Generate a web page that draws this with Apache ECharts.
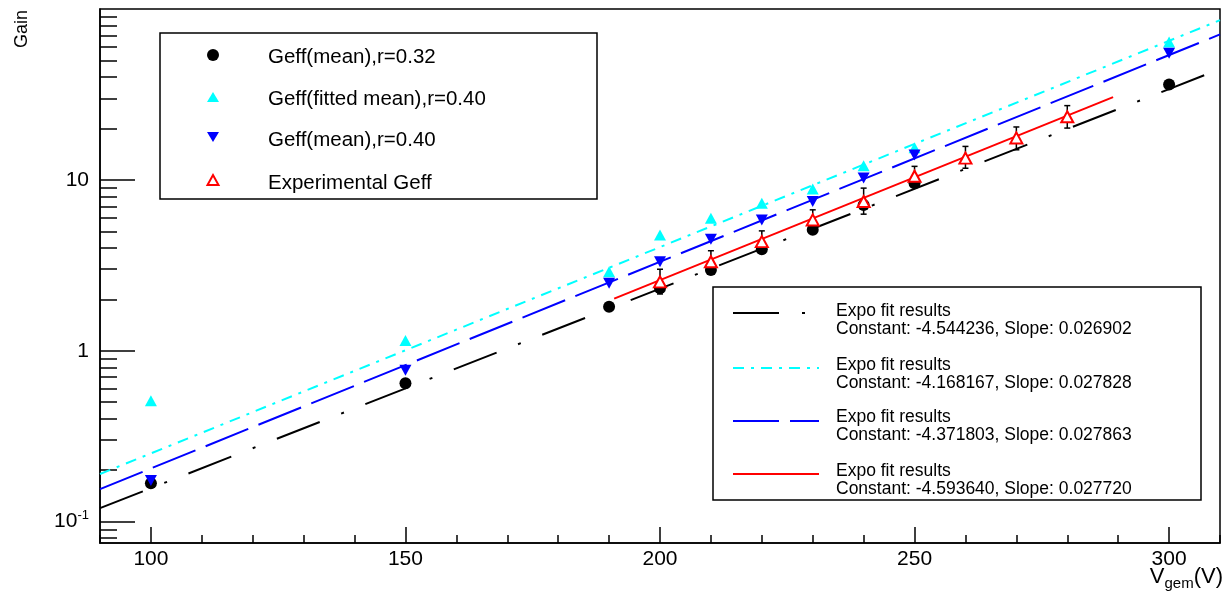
<!DOCTYPE html>
<html>
<head>
<meta charset="utf-8">
<script src="https://cdn.jsdelivr.net/npm/echarts@6/dist/echarts.min.js"></script>
<style>
  html, body { margin: 0; background: #fff; }
  #main { width: 1224px; height: 591px; }
</style>
</head>
<body>
<div id="main"></div>
<script>
// simulated points (V_gem)
var vSim = [100, 150, 190, 200, 210, 220, 230, 240, 250, 300];
var gainMean032 = [0.168, 0.645, 1.81, 2.32, 2.97, 3.93, 5.1, 7.14, 9.57, 36.1];
var gainFitted040 = [0.51, 1.15, 2.9, 4.76, 5.97, 7.31, 8.83, 12.1, 15.4, 64];
var gainMean040 = [0.174, 0.77, 2.48, 3.32, 4.5, 5.83, 7.47, 10.25, 14.0, 55];

// experimental points with error bars
var vExp = [200, 210, 220, 230, 240, 250, 260, 270, 280];
var gainExp = [2.53, 3.32, 4.35, 5.83, 7.47, 10.5, 13.4, 17.6, 23.4];
var gainExpLow = [2.15, 2.85, 3.75, 5.05, 6.3, 9.1, 11.7, 15.0, 20.1];
var gainExpHigh = [3.0, 3.85, 5.03, 6.68, 8.95, 12.0, 15.7, 20.4, 27.2];

// expo fit lines, end points
var fitX = [90, 310];
var fitBlack = [0.12, 44.5];
var fitCyan = [0.19, 86];
var fitBlue = [0.155, 71];
var fitRedX = [191, 289];
var fitRed = [2.02, 30.5];

// axis ticks
var xMajor = [100, 150, 200, 250, 300];
var xMinor = [90, 100, 110, 120, 130, 140, 150, 160, 170, 180, 190, 200, 210, 220, 230, 240, 250, 260, 270, 280, 290, 300, 310];
var yMajor = [0.1, 1, 10];
var yMinor = [0.08, 0.09, 0.2, 0.3, 0.4, 0.5, 0.6, 0.7, 0.8, 0.9, 2, 3, 4, 5, 6, 7, 8, 9, 20, 30, 40, 50, 60, 70, 80, 90];

var legendNames = ['Geff(mean),r=0.32', 'Geff(fitted mean),r=0.40', 'Geff(mean),r=0.40', 'Experimental Geff'];
var fitTitles = ['Expo fit results', 'Expo fit results', 'Expo fit results', 'Expo fit results'];
var fitParams = ['Constant: -4.544236, Slope: 0.026902', 'Constant: -4.168167, Slope: 0.027828',
  'Constant: -4.371803, Slope: 0.027863', 'Constant: -4.593640, Slope: 0.027720'];

function pairs(xs, ys) {
  return xs.map(function (x, i) { return [x, ys[i]]; });
}

var FONT = 'Liberation Sans';
var CYAN = '#00ffff';
var dashBlack = [46, 23, 3, 23];
var dashCyan = [11, 7, 3, 7];
var dashBlue = [46, 11];

var myChart = echarts.init(document.getElementById('main'));

// legend boxes drawn as graphic elements
var g = [];
g.push({ type: 'rect', shape: { x: 160, y: 33, width: 437, height: 166 }, style: { fill: 'none', stroke: '#000', lineWidth: 1.5 }, z: 100 });
g.push({ type: 'circle', shape: { cx: 213, cy: 55, r: 6 }, style: { fill: '#000' }, z: 100 });
g.push({ type: 'polygon', shape: { points: [[207, 102], [219, 102], [213, 92]] }, style: { fill: CYAN }, z: 100 });
g.push({ type: 'polygon', shape: { points: [[207, 132], [219, 132], [213, 142]] }, style: { fill: '#0000ff' }, z: 100 });
g.push({ type: 'polygon', shape: { points: [[207.5, 185], [218.5, 185], [213, 175]] }, style: { fill: '#fff', stroke: '#ff0000', lineWidth: 2 }, z: 100 });
var rowY1 = [57, 99, 140, 183];
legendNames.forEach(function (t, i) {
  g.push({ type: 'text', x: 268, y: rowY1[i], style: { text: t, font: '20.5px "' + FONT + '"', fill: '#000', verticalAlign: 'middle' }, z: 100 });
});

g.push({ type: 'rect', shape: { x: 713, y: 287, width: 488, height: 213 }, style: { fill: '#fff', stroke: '#000', lineWidth: 1.5 }, z: 100 });
var fitColors = ['#000', CYAN, '#0000ff', '#ff0000'];
var fitDashes = [dashBlack, dashCyan, dashBlue, null];
var sampleY = [313, 368, 421, 474];
var rowY2 = [311, 365, 417, 471];
for (var i = 0; i < 4; i++) {
  g.push({ type: 'line', shape: { x1: 733, y1: sampleY[i], x2: 819, y2: sampleY[i] },
    style: { stroke: fitColors[i], lineWidth: 2, lineDash: fitDashes[i] }, z: 101 });
  g.push({ type: 'text', x: 836, y: rowY2[i], style: { text: fitTitles[i], font: '17.5px "' + FONT + '"', fill: '#000', verticalAlign: 'middle' }, z: 101 });
  g.push({ type: 'text', x: 836, y: rowY2[i] + 18.5, style: { text: fitParams[i], font: '17.5px "' + FONT + '"', fill: '#000', verticalAlign: 'middle' }, z: 101 });
}

// axis titles
g.push({ type: 'text', x: 22, y: 10, rotation: Math.PI / 2,
  style: { text: 'Gain', font: '18px "' + FONT + '"', fill: '#000', align: 'right', verticalAlign: 'middle' }, z: 100 });
g.push({ type: 'text', x: 1223, y: 577,
  style: { text: '{v|V}{s|gem}{v|(V)}', align: 'right', verticalAlign: 'middle',
    rich: { v: { fontFamily: FONT, fontSize: 22, fill: '#000', lineHeight: 24 },
            s: { fontFamily: FONT, fontSize: 15, fill: '#000', lineHeight: 24, padding: [14, 0, 0, 0] } } }, z: 100 });

var option = {
  animation: false,
  backgroundColor: '#fff',
  grid: { left: 100, right: 4, top: 9, bottom: 48, show: true, borderColor: '#000', borderWidth: 1.5 },
  xAxis: [
    {
      type: 'value', min: 90, max: 310,
      axisLine: { onZero: false, lineStyle: { color: '#000', width: 1.5 } },
      axisTick: { inside: true, length: 16, customValues: xMajor, lineStyle: { color: '#000', width: 1.5 } },
      axisLabel: { customValues: xMajor, margin: 6, color: '#000', fontFamily: FONT, fontSize: 21 },
      splitLine: { show: false }
    },
    {
      type: 'value', min: 90, max: 310, position: 'bottom',
      axisLine: { show: false, onZero: false },
      axisTick: { inside: true, length: 8, customValues: xMinor, lineStyle: { color: '#000', width: 1.5 } },
      axisLabel: { show: false },
      splitLine: { show: false }
    }
  ],
  yAxis: [
    {
      type: 'log', logBase: 10, min: 0.075, max: 100,
      axisLine: { show: true, lineStyle: { color: '#000', width: 1.5 } },
      axisTick: { show: true, inside: true, length: 35, customValues: yMajor, lineStyle: { color: '#000', width: 1.5 } },
      axisLabel: {
        customValues: yMajor, margin: 11, color: '#000', fontFamily: FONT, fontSize: 21,
        formatter: function (v) { return v < 0.5 ? '{a|10}{b|-1}' : (v < 5 ? '1' : '10'); },
        rich: { a: { fontFamily: FONT, fontSize: 21, color: '#000', lineHeight: 24 },
                b: { fontFamily: FONT, fontSize: 13, color: '#000', lineHeight: 24, padding: [0, 0, 12, 0] } }
      },
      splitLine: { show: false }
    },
    {
      type: 'log', logBase: 10, min: 0.075, max: 100, position: 'left',
      axisLine: { show: false },
      axisTick: { show: true, inside: true, length: 17, customValues: yMinor, lineStyle: { color: '#000', width: 1.5 } },
      axisLabel: { show: false },
      splitLine: { show: false }
    }
  ],
  graphic: g,
  series: [
    { type: 'line', data: pairs(fitX, fitBlack), symbol: 'none', lineStyle: { color: '#000', width: 2, type: dashBlack }, z: 2 },
    { type: 'line', data: pairs(fitX, fitCyan), symbol: 'none', lineStyle: { color: CYAN, width: 2, type: dashCyan }, z: 2 },
    { type: 'line', data: pairs(fitX, fitBlue), symbol: 'none', lineStyle: { color: '#0000ff', width: 2, type: dashBlue }, z: 2 },
    { type: 'line', data: pairs(fitRedX, fitRed), symbol: 'none', lineStyle: { color: '#ff0000', width: 2 }, z: 2 },
    { type: 'scatter', data: pairs(vSim, gainMean032), symbol: 'circle', symbolSize: 12, itemStyle: { color: '#000', opacity: 1 }, z: 3 },
    { type: 'scatter', data: pairs(vSim, gainFitted040), symbol: 'triangle', symbolSize: [12, 11], itemStyle: { color: CYAN, opacity: 1 }, z: 3 },
    { type: 'scatter', data: pairs(vSim, gainMean040), symbol: 'triangle', symbolRotate: 180, symbolSize: [12, 11], itemStyle: { color: '#0000ff', opacity: 1 }, z: 3 },
    {
      type: 'custom', z: 4,
      data: vExp.map(function (v, i) { return [v, gainExpLow[i], gainExpHigh[i]]; }),
      encode: { x: 0, y: [1, 2] },
      renderItem: function (params, api) {
        var lo = api.coord([api.value(0), api.value(1)]);
        var hi = api.coord([api.value(0), api.value(2)]);
        var st = { stroke: '#000', lineWidth: 1.5 };
        return {
          type: 'group',
          children: [
            { type: 'line', shape: { x1: lo[0], y1: lo[1], x2: hi[0], y2: hi[1] }, style: st },
            { type: 'line', shape: { x1: hi[0] - 3, y1: hi[1], x2: hi[0] + 3, y2: hi[1] }, style: st },
            { type: 'line', shape: { x1: lo[0] - 3, y1: lo[1], x2: lo[0] + 3, y2: lo[1] }, style: st }
          ]
        };
      }
    },
    { type: 'scatter', data: pairs(vExp, gainExp), symbol: 'triangle', symbolSize: [12, 11],
      itemStyle: { color: '#fff', borderColor: '#ff0000', borderWidth: 2, opacity: 1 }, z: 5 }
  ]
};
myChart.setOption(option);
</script>
</body>
</html>
